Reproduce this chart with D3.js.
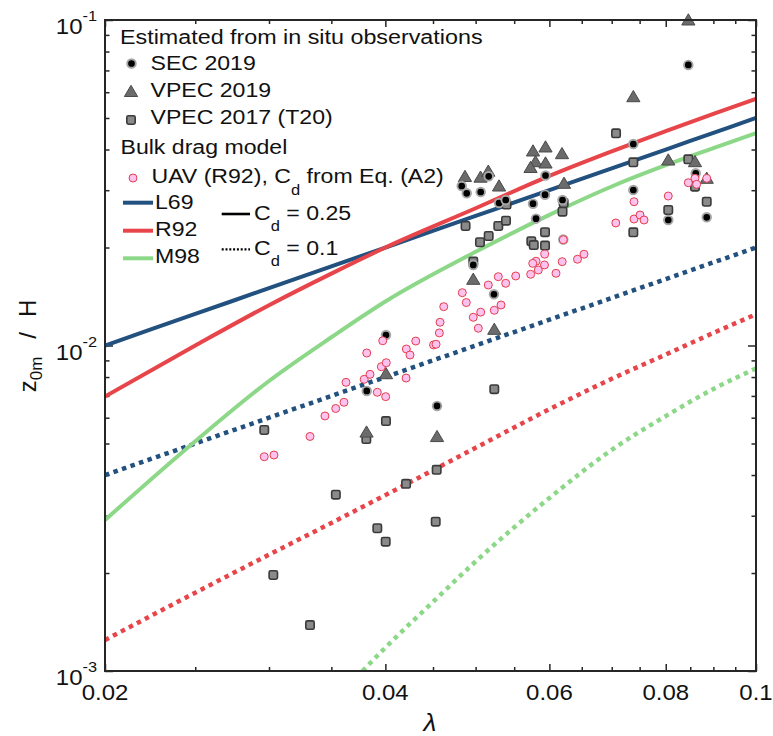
<!DOCTYPE html>
<html><head><meta charset="utf-8">
<script src="https://cdn.jsdelivr.net/npm/d3@7"></script>
<style>body{margin:0;background:#fff} svg{display:block} text{white-space:pre}</style>
</head><body><svg id="c" width="773" height="736"></svg>
<script>
// ---------- data ----------
const curveLambda = [0.02,0.025,0.03,0.035,0.04,0.05,0.06,0.07,0.08,0.09,0.1];
const l69Solid  = [0.01,0.0125,0.015,0.0175,0.02,0.025,0.03,0.035,0.04,0.045,0.05];
const l69Dotted = [0.004,0.005,0.006,0.007,0.008,0.010,0.012,0.014,0.016,0.018,0.020];
const r92Solid  = [0.00697,0.0100,0.0133,0.01663,0.0200,0.0264,0.0332,0.0395,0.0456,0.0515,0.0573];
const r92Dotted = [0.001245,0.00174,0.002277,0.00285,0.00347,0.00485,0.00637,0.0079,0.00938,0.01093,0.01247];
const m98Solid  = [0.00291,0.00508,0.00778,0.0106,0.01365,0.0194,0.0252,0.0308,0.0358,0.0404,0.0449];
const m98DottedLambda = [0.0378,0.04,0.045,0.05,0.06,0.07,0.08,0.09,0.1];
const m98Dotted = [0.001,0.00118,0.00163,0.00217,0.0034,0.00478,0.00607,0.00735,0.0085];

const sec2019 = [[0.08459,0.07275],[0.07384,0.04159],[0.07384,0.03004],[0.0805,0.0243],[0.08853,0.02477],[0.08616,0.03381],
 [0.04831,0.0309],[0.04891,0.02935],[0.05063,0.02962],[0.05164,0.0331],[0.05298,0.0274],[0.05386,0.02799],[0.05762,0.02727],
 [0.05943,0.03329],[0.05936,0.02906],[0.05805,0.02453],[0.06198,0.02799],[0.04971,0.01768],[0.05232,0.01437],[0.0621,0.02116],
 [0.04006,0.01077],[0.0382,0.00725],[0.04545,0.00652]];
const vpec2019 = [[0.0846,0.1],[0.07384,0.05812],[0.0805,0.03714],[0.086,0.0367],[0.08853,0.03263],[0.0487,0.03305],[0.05061,0.03289],
 [0.05159,0.03431],[0.05298,0.0309],[0.05762,0.03959],[0.05943,0.04073],[0.0619,0.03884],[0.05798,0.0367],[0.05727,0.03522],
 [0.05943,0.03636],[0.06221,0.0315],[0.04971,0.01597],[0.05236,0.01121],[0.04006,0.00819],[0.03818,0.00542],[0.04545,0.00525]];
const vpec2017 = [[0.07075,0.04487],[0.07384,0.03654],[0.08459,0.03733],[0.086,0.03075],[0.08853,0.02765],[0.0805,0.02608],
 [0.07384,0.02227],[0.04877,0.02329],[0.05054,0.02076],[0.05164,0.0217],[0.05288,0.02329],[0.0539,0.02418],[0.06198,0.02577],
 [0.06216,0.0274],[0.05936,0.02229],[0.05738,0.02091],[0.05773,0.02035],[0.05936,0.02028],[0.05397,0.0271],[0.04971,0.01811],
 [0.04006,0.00586],[0.03816,0.00516],[0.05236,0.00734],[0.04541,0.00415],[0.0421,0.00376],[0.03539,0.00348],[0.02965,0.0055],
 [0.03921,0.002745],[0.04003,0.002496],[0.0453,0.002875],[0.03032,0.001972],[0.0332,0.001384]];
const uavR92 = [[0.02965,0.004553],[0.03037,0.004608],[0.0332,0.005255],[0.03445,0.006075],[0.03538,0.006405],[0.03611,0.006692],
 [0.03629,0.007706],[0.03796,0.007872],[0.03851,0.008155],[0.03921,0.007183],[0.04003,0.006963],[0.0396,0.008606],[0.04009,0.008853],
 [0.0382,0.009484],[0.0421,0.007945],[0.03974,0.01034],[0.04213,0.009755],[0.04251,0.009351],[0.04312,0.01032],[0.04506,0.01004],
 [0.04534,0.01009],[0.04571,0.01093],[0.04579,0.01179],[0.04621,0.01316],[0.04838,0.01453],[0.04886,0.01355],[0.04971,0.01221],
 [0.05063,0.01266],[0.05033,0.0113],[0.05159,0.01534],[0.05288,0.01627],[0.05386,0.01553],[0.05236,0.01283],[0.05324,0.01332],
 [0.05521,0.01635],[0.05729,0.01655],[0.05805,0.01815],[0.05758,0.01788],[0.05838,0.01706],[0.05928,0.01768],[0.05931,0.01908],
 [0.06099,0.01667],[0.06193,0.01809],[0.0621,0.02113],[0.06432,0.01841],[0.06536,0.01907],[0.07071,0.02379],[0.07397,0.02765],
 [0.07397,0.02447],[0.07507,0.02517],[0.07582,0.0243],[0.0805,0.02879],[0.08459,0.03163],[0.086,0.03263],[0.08636,0.03128],
 [0.08853,0.03263]];

const xMajor = [0.02,0.04,0.06,0.08,0.1];
const xMajorLabels = ["0.02","0.04","0.06","0.08","0.1"];
const xMinor = [0.025,0.03,0.035,0.045,0.05,0.055,0.065,0.07,0.075,0.085,0.09,0.095];
const yMajor = [0.001,0.01,0.1];
const yMajorExp = ["-3","-2","-1"];
const yMinor = [2,3,4,5,6,7,8,9].map(d=>d*0.001).concat([2,3,4,5,6,7,8,9].map(d=>d*0.01));

// ---------- styles ----------
const C = {blue:"#22507f", red:"#e8454a", green:"#8dd888", axis:"#262626",
  uavFill:"#fdc2f0", uavStroke:"#e2404c", triFill:"#6b6b6b", triStroke:"#4a4a4a",
  sqFill:"#8a8a8a", sqStroke:"#3a3a3a", secHalo:"#a6a6a6"};
const FONT = "'Liberation Sans', Arial, Helvetica, sans-serif";
const SX = 1.09;

const svg = d3.select("#c").style("font-family", FONT);
const X0=105, X1=756, Y0=20, Y1=671;
const x = d3.scaleLog().domain([0.02,0.1]).range([X0,X1]);
const y = d3.scaleLog().domain([0.001,0.1]).range([Y1,Y0]);

svg.append("clipPath").attr("id","clip").append("rect")
  .attr("x",X0).attr("y",Y0).attr("width",X1-X0).attr("height",Y1-Y0);

// ---------- text helper ----------
function addText(parent, px, py, segs, size, anchor, sx){
  const t = parent.append("text")
    .attr("transform", `translate(${px},${py}) scale(${sx||SX},1)`)
    .attr("font-size", size).attr("text-anchor", anchor||"start").attr("fill","#111");
  let shift = 0;
  segs.forEach(s=>{
    const seg = (typeof s === "string") ? {t:s} : s;
    const target = seg.sub ? seg.sub : (seg.sup ? -seg.sup : 0);
    const ts = t.append("tspan").text(seg.t).attr("dy", target-shift);
    if (seg.size) ts.attr("font-size", seg.size);
    shift = target;
  });
  return t;
}

// ---------- axes ----------
function styleAxis(g){ g.select(".domain").remove(); g.selectAll("line").attr("stroke",C.axis).attr("stroke-width",1.5); }
const axG = svg.append("g");
axG.append("g").attr("transform",`translate(0,${Y1})`)
  .call(d3.axisBottom(x).tickValues(xMajor).tickSizeInner(-7).tickSizeOuter(0).tickFormat(()=>"")).call(styleAxis);
axG.append("g").attr("transform",`translate(0,${Y1})`)
  .call(d3.axisBottom(x).tickValues(xMinor).tickSizeInner(-4).tickSizeOuter(0).tickFormat(()=>"")).call(styleAxis);
axG.append("g").attr("transform",`translate(0,${Y0})`)
  .call(d3.axisTop(x).tickValues(xMajor).tickSizeInner(-7).tickSizeOuter(0).tickFormat(()=>"")).call(styleAxis);
axG.append("g").attr("transform",`translate(0,${Y0})`)
  .call(d3.axisTop(x).tickValues(xMinor).tickSizeInner(-4).tickSizeOuter(0).tickFormat(()=>"")).call(styleAxis);
axG.append("g").attr("transform",`translate(${X0},0)`)
  .call(d3.axisLeft(y).tickValues(yMajor).tickSizeInner(-8).tickSizeOuter(0).tickFormat(()=>"")).call(styleAxis);
axG.append("g").attr("transform",`translate(${X0},0)`)
  .call(d3.axisLeft(y).tickValues(yMinor).tickSizeInner(-4.5).tickSizeOuter(0).tickFormat(()=>"")).call(styleAxis);
axG.append("g").attr("transform",`translate(${X1},0)`)
  .call(d3.axisRight(y).tickValues(yMajor).tickSizeInner(-8).tickSizeOuter(0).tickFormat(()=>"")).call(styleAxis);
axG.append("g").attr("transform",`translate(${X1},0)`)
  .call(d3.axisRight(y).tickValues(yMinor).tickSizeInner(-4.5).tickSizeOuter(0).tickFormat(()=>"")).call(styleAxis);

// tick labels
xMajor.forEach((v,i)=> addText(svg, x(v), Y1+29, [xMajorLabels[i]], 22, "middle"));
yMajor.forEach((v,i)=> addText(svg, 97, y(v)+14, ["10", {t:yMajorExp[i], sup:13, size:15}], 22, "end"));

// axis labels
addText(svg, 430, 731, [""], 24, "middle").append("tspan").text("λ").attr("font-style","italic");
svg.append("text").attr("transform","translate(36,346) rotate(-90)").attr("text-anchor","middle")
  .attr("font-size",24).attr("fill","#111")
  .call(t=>{ t.append("tspan").text("z");
             t.append("tspan").text("0m").attr("font-size",17).attr("dy",6);
             t.append("tspan").text("/").attr("dy",-6).attr("dx",18);
             t.append("tspan").text("H").attr("dx",15); });

// ---------- curves ----------
const lineGen = d3.line().x(d=>x(d[0])).y(d=>y(d[1])).curve(d3.curveMonotoneX);
const curveG = svg.append("g").attr("clip-path","url(#clip)").attr("fill","none");
const zipG = (ls, vs) => ls.map((l,i)=>[l, vs[i]]);
const curves = [
  {d:zipG(curveLambda,l69Dotted), c:C.blue, dot:true},
  {d:zipG(curveLambda,r92Dotted), c:C.red, dot:true},
  {d:zipG(m98DottedLambda,m98Dotted), c:C.green, dot:true},
  {d:zipG(curveLambda,m98Solid), c:C.green},
  {d:zipG(curveLambda,l69Solid), c:C.blue},
  {d:zipG(curveLambda,r92Solid), c:C.red},
];
curves.forEach(cv=>{
  curveG.append("path").attr("d", lineGen(cv.d)).attr("stroke", cv.c)
    .attr("stroke-width", cv.dot?4.5:4).attr("stroke-dasharray", cv.dot?"4.5,4.5":null);
});

// ---------- markers ----------
const triPath = "M0,-6.2L6.6,5L-6.6,5Z";
function drawSquares(g, data){
  g.selectAll(null).data(data).join("rect")
    .attr("x",d=>x(d[0])-4.2).attr("y",d=>y(d[1])-4.2).attr("width",8.4).attr("height",8.4).attr("rx",1.6)
    .attr("fill",C.sqFill).attr("stroke",C.sqStroke).attr("stroke-width",1.6);
}
function drawTris(g, data){
  g.selectAll(null).data(data).join("path").attr("d",triPath)
    .attr("transform",d=>`translate(${x(d[0])},${y(d[1])})`)
    .attr("fill",C.triFill).attr("stroke",C.triStroke).attr("stroke-width",1);
}
function drawSec(g, data){
  g.selectAll(null).data(data).join("circle")
    .attr("cx",d=>x(d[0])).attr("cy",d=>y(d[1])).attr("r",4.3)
    .attr("fill","#000").attr("stroke",C.secHalo).attr("stroke-width",1.9);
}
function drawUav(g, data){
  g.selectAll(null).data(data).join("circle")
    .attr("cx",d=>x(d[0])).attr("cy",d=>y(d[1])).attr("r",4)
    .attr("fill",C.uavFill).attr("stroke",C.uavStroke).attr("stroke-width",1);
}
const mG = svg.append("g");
drawSquares(mG.append("g"), vpec2017);
drawTris(mG.append("g"), vpec2019);
drawSec(mG.append("g"), sec2019);
drawUav(mG.append("g"), uavR92);

// axis box on top
svg.append("rect").attr("x",X0).attr("y",Y0).attr("width",X1-X0).attr("height",Y1-Y0)
  .attr("fill","none").attr("stroke",C.axis).attr("stroke-width",2);

// ---------- legend ----------
const lg = svg.append("g");
addText(lg, 120, 44, ["Estimated from in situ observations"], 21, "start", 1.11);
lg.append("circle").attr("cx",131.5).attr("cy",63.5).attr("r",4.3).attr("fill","#000").attr("stroke",C.secHalo).attr("stroke-width",1.9);
addText(lg, 150.5, 70, ["SEC 2019"], 21, "start", 1.1);
lg.append("path").attr("d",triPath).attr("transform","translate(131,91.5)").attr("fill",C.triFill).attr("stroke",C.triStroke);
addText(lg, 150.5, 97, ["VPEC 2019"], 21, "start", 1.1);
lg.append("rect").attr("x",126.8).attr("y",115.8).attr("width",8.4).attr("height",8.4).attr("rx",1.6)
  .attr("fill",C.sqFill).attr("stroke",C.sqStroke).attr("stroke-width",1.6);
addText(lg, 150.5, 123.5, ["VPEC 2017 (T20)"], 21, "start", 1.1);
addText(lg, 120.5, 154, ["Bulk drag model"], 21, "start", 1.1);
lg.append("circle").attr("cx",133).attr("cy",178).attr("r",4).attr("fill",C.uavFill).attr("stroke",C.uavStroke);
addText(lg, 151.5, 182.5, ["UAV (R92), C", {t:"d", sub:12, size:15}, " from Eq. (A2)"], 21, "start", 1.1);
[["L69",C.blue,202.7,209.3],["R92",C.red,230.7,236],["M98",C.green,258.3,262.5]].forEach(r=>{
  lg.append("line").attr("x1",123).attr("x2",153).attr("y1",r[2]).attr("y2",r[2]).attr("stroke",r[1]).attr("stroke-width",4);
  addText(lg, 155, r[3], [r[0]], 21, "start", 1.1);
});
lg.append("line").attr("x1",221.7).attr("x2",250).attr("y1",214).attr("y2",214).attr("stroke","#000").attr("stroke-width",2.6);
addText(lg, 254, 220, ["C", {t:"d", sub:11, size:15}, " = 0.25"], 21, "start", 1.1);
lg.append("line").attr("x1",221.7).attr("x2",250).attr("y1",249.3).attr("y2",249.3).attr("stroke","#000").attr("stroke-width",2.2).attr("stroke-dasharray","2,1.8");
addText(lg, 254, 255, ["C", {t:"d", sub:11, size:15}, " = 0.1"], 21, "start", 1.1);
</script></body></html>
